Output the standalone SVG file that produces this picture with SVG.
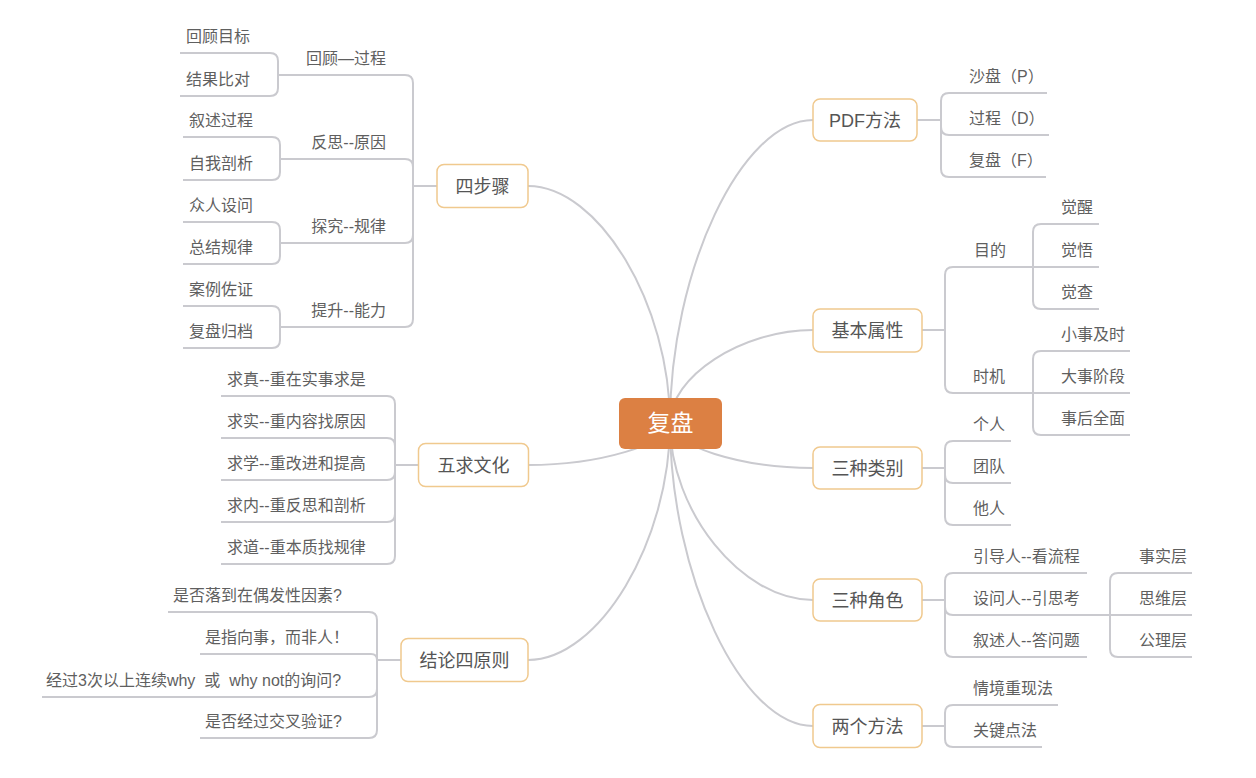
<svg xmlns="http://www.w3.org/2000/svg" width="1256" height="778" viewBox="0 0 1256 778">
<style>
text{font-family:"Liberation Sans","Noto Sans CJK SC",sans-serif}
.ln{fill:none;stroke:#CACACF;stroke-width:2}
.mn{fill:#fff;stroke:#F0C98E;stroke-width:1.5}
.mt{font-size:18px;fill:#555;text-anchor:middle}
.st{font-size:16px;fill:#5f5f5f}
.en{text-anchor:end}
</style>
<rect width="1256" height="778" fill="#fff"/>
<g id="connectors">
<g class="ln">
<path d="M670,423 C670,304.5 599,186 528,186"/>
<path d="M670,423 C670,444 599,465 528,465"/>
<path d="M670,423 C670,541.5 599,660 528,660"/>
<path d="M670,423 C670,271.5 741.5,120 813,120"/>
<path d="M670,423 C670,376.5 741.5,330 813,330"/>
<path d="M670,423 C670,445.5 741.5,468 813,468"/>
<path d="M670,423 C670,511.5 741.5,600 813,600"/>
<path d="M670,423 C670,574.5 741.5,726 813,726"/>
<path d="M917,120 H941"/>
<path d="M941,120 V101 Q941,93 949,93 H1047"/>
<path d="M941,120 V127 Q941,135 949,135 H1049"/>
<path d="M941,120 V169 Q941,177 949,177 H1046"/>
<path d="M922,330 H945"/>
<path d="M945,330 V275 Q945,267 953,267 H1033"/>
<path d="M945,330 V385 Q945,393 953,393 H1033"/>
<path d="M1033,267 V232 Q1033,224 1041,224 H1099"/>
<path d="M1033,267 H1099"/>
<path d="M1033,267 V301 Q1033,309 1041,309 H1099"/>
<path d="M1033,393 V359 Q1033,351 1041,351 H1130"/>
<path d="M1033,393 H1130"/>
<path d="M1033,393 V427 Q1033,435 1041,435 H1130"/>
<path d="M922,468 H945"/>
<path d="M945,468 V449 Q945,441 953,441 H1011"/>
<path d="M945,468 V475 Q945,483 953,483 H1011"/>
<path d="M945,468 V517 Q945,525 953,525 H1011"/>
<path d="M922,600 H945"/>
<path d="M945,600 V581 Q945,573 953,573 H1087"/>
<path d="M945,600 V607 Q945,615 953,615 H1110"/>
<path d="M945,600 V649 Q945,657 953,657 H1087"/>
<path d="M1110,615 V581 Q1110,573 1118,573 H1192"/>
<path d="M1110,615 H1192"/>
<path d="M1110,615 V649 Q1110,657 1118,657 H1192"/>
<path d="M922,726 H945"/>
<path d="M945,726 V713 Q945,705 953,705 H1058"/>
<path d="M945,726 V739 Q945,747 953,747 H1042"/>
<path d="M437,186 H413"/>
<path d="M413,186 V83 Q413,75 405,75 H278"/>
<path d="M413,186 V167 Q413,159 405,159 H280"/>
<path d="M413,186 V235 Q413,243 405,243 H280"/>
<path d="M413,186 V319 Q413,327 405,327 H280"/>
<path d="M278,75 V61 Q278,53 270,53 H180"/>
<path d="M278,75 V88 Q278,96 270,96 H180"/>
<path d="M280,159 V145 Q280,137 272,137 H183"/>
<path d="M280,159 V172 Q280,180 272,180 H183"/>
<path d="M280,243 V230 Q280,222 272,222 H183"/>
<path d="M280,243 V256 Q280,264 272,264 H183"/>
<path d="M280,327 V314 Q280,306 272,306 H183"/>
<path d="M280,327 V340 Q280,348 272,348 H183"/>
<path d="M418,465 H395"/>
<path d="M395,465 V404 Q395,396 387,396 H221"/>
<path d="M395,465 V446 Q395,438 387,438 H221"/>
<path d="M395,465 V472 Q395,480 387,480 H221"/>
<path d="M395,465 V514 Q395,522 387,522 H221"/>
<path d="M395,465 V556 Q395,564 387,564 H221"/>
<path d="M401,660 H377"/>
<path d="M377,660 V620 Q377,612 369,612 H168"/>
<path d="M377,660 Q377,654 371,654 H200"/>
<path d="M377,660 V689 Q377,697 369,697 H42"/>
<path d="M377,660 V730 Q377,738 369,738 H200"/>
</g>
</g>
<g id="root">
<rect x="619" y="398" width="103" height="51" rx="6" fill="#DC8043"/>
<text x="670.5" y="431" font-size="23" fill="#fff" text-anchor="middle">复盘</text>
</g>
<g id="n-sibuzhou">
<rect class="mn" x="437" y="164.5" width="91" height="43" rx="7"/>
<text class="mt" x="482.5" y="192.5">四步骤</text>
</g>
<g id="n-wuqiu">
<rect class="mn" x="418.5" y="443.5" width="110" height="43" rx="7"/>
<text class="mt" x="473.5" y="471.5">五求文化</text>
</g>
<g id="n-jielun">
<rect class="mn" x="401" y="638.5" width="127" height="43" rx="7"/>
<text class="mt" x="464.5" y="666.5">结论四原则</text>
</g>
<g id="n-pdf">
<rect class="mn" x="813" y="99" width="104" height="42" rx="7"/>
<text class="mt" x="865" y="126.5">PDF方法</text>
</g>
<g id="n-jiben">
<rect class="mn" x="813" y="309" width="109" height="43" rx="7"/>
<text class="mt" x="867.5" y="336.5">基本属性</text>
</g>
<g id="n-leibie">
<rect class="mn" x="813" y="447" width="109" height="42" rx="7"/>
<text class="mt" x="867.5" y="474.5">三种类别</text>
</g>
<g id="n-juese">
<rect class="mn" x="813" y="579" width="109" height="42" rx="7"/>
<text class="mt" x="867.5" y="606.5">三种角色</text>
</g>
<g id="n-fangfa">
<rect class="mn" x="813" y="704.5" width="109" height="43" rx="7"/>
<text class="mt" x="867.5" y="732.5">两个方法</text>
</g>
<g id="sub-pdf" class="st">
<text class="st" x="969" y="82">沙盘（P）</text>
<text class="st" x="969" y="124">过程（D）</text>
<text class="st" x="969" y="166">复盘（F）</text>
</g>
<g id="sub-jiben">
<text class="st" x="974" y="256">目的</text>
<text class="st" x="973" y="382">时机</text>
<text class="st" x="1061" y="213">觉醒</text>
<text class="st" x="1061" y="256">觉悟</text>
<text class="st" x="1061" y="298">觉查</text>
<text class="st" x="1061" y="340">小事及时</text>
<text class="st" x="1061" y="382">大事阶段</text>
<text class="st" x="1061" y="424">事后全面</text>
</g>
<g id="sub-leibie">
<text class="st" x="973" y="430">个人</text>
<text class="st" x="973" y="472">团队</text>
<text class="st" x="973" y="514">他人</text>
</g>
<g id="sub-juese">
<text class="st" x="973" y="562">引导人--看流程</text>
<text class="st" x="973" y="604">设问人--引思考</text>
<text class="st" x="973" y="646">叙述人--答问题</text>
<text class="st" x="1139" y="562">事实层</text>
<text class="st" x="1139" y="604">思维层</text>
<text class="st" x="1139" y="646">公理层</text>
</g>
<g id="sub-fangfa">
<text class="st" x="973" y="694">情境重现法</text>
<text class="st" x="973" y="736">关键点法</text>
</g>
<g id="sub-sibuzhou">
<text class="st en" x="386" y="64">回顾—过程</text>
<text class="st en" x="386" y="148">反思--原因</text>
<text class="st en" x="386" y="232">探究--规律</text>
<text class="st en" x="386" y="316">提升--能力</text>
<text class="st" x="186" y="42">回顾目标</text>
<text class="st" x="186" y="85">结果比对</text>
<text class="st" x="189" y="126">叙述过程</text>
<text class="st" x="189" y="169">自我剖析</text>
<text class="st" x="189" y="211">众人设问</text>
<text class="st" x="189" y="253">总结规律</text>
<text class="st" x="189" y="295">案例佐证</text>
<text class="st" x="189" y="337">复盘归档</text>
</g>
<g id="sub-wuqiu">
<text class="st" x="227" y="385">求真--重在实事求是</text>
<text class="st" x="227" y="427">求实--重内容找原因</text>
<text class="st" x="227" y="469">求学--重改进和提高</text>
<text class="st" x="227" y="511">求内--重反思和剖析</text>
<text class="st" x="227" y="553">求道--重本质找规律</text>
</g>
<g id="sub-jielun">
<text class="st" x="173" y="601">是否落到在偶发性因素?</text>
<text class="st" x="205" y="643">是指向事，而非人！</text>
<text class="st" x="46" y="686" xml:space="preserve">经过3次以上连续why  或  why not的询问?</text>
<text class="st" x="205" y="727">是否经过交叉验证?</text>
</g>
</svg>
